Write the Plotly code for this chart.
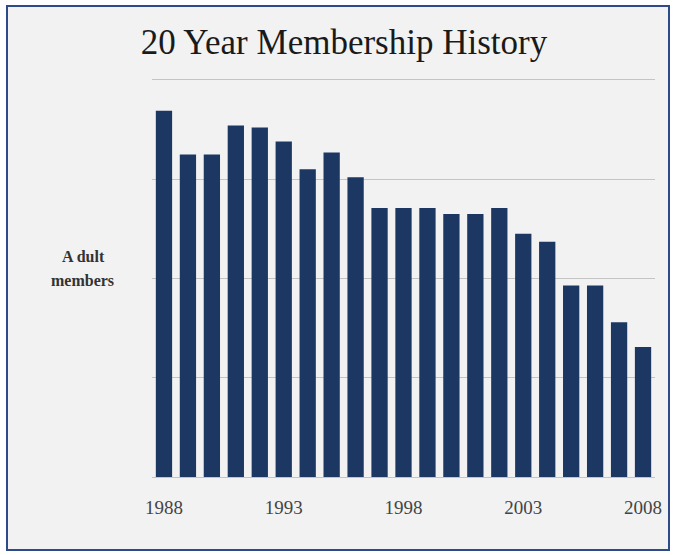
import plotly.graph_objects as go

years = [str(y) for y in range(1988, 2009)]
members = [369, 325, 325, 354, 352, 338, 310, 327, 302, 271, 271, 271, 265, 265, 271, 245, 237, 193, 193, 156, 131]
tick_years = ["1988", "1993", "1998", "2003", "2008"]
grid_vals = [0, 100, 200, 300, 400]

W, H = 675, 555
L, R, T, B = 152, 20, 70, 78
pw = W - L - R
ph = H - T - B

def px_x(x):
    return (x - L) / pw

def px_y(y):
    return (H - B - y) / ph

fig = go.Figure()
fig.add_trace(go.Bar(
    x=years, y=members,
    marker=dict(color="#1c3761", line=dict(width=0)),
    width=0.68,
    hoverinfo="x+y",
))

fig.add_shape(type="rect", xref="paper", yref="paper",
              x0=px_x(7), x1=px_x(669), y0=px_y(550), y1=px_y(6),
              fillcolor="#f2f2f2", line=dict(color="#2e4a8a", width=2),
              layer="below")

fig.add_annotation(text="<b>A dult</b>", xref="paper", yref="paper",
                   x=px_x(83), y=px_y(256), showarrow=False,
                   font=dict(family="Liberation Serif", size=16, color="#333333"),
                   xanchor="center", yanchor="middle")
fig.add_annotation(text="<b>members</b>", xref="paper", yref="paper",
                   x=px_x(82), y=px_y(280), showarrow=False,
                   font=dict(family="Liberation Serif", size=16, color="#333333"),
                   xanchor="center", yanchor="middle")

fig.update_layout(
    width=W, height=H,
    margin=dict(l=L, r=R, t=T, b=B, pad=0),
    paper_bgcolor="white",
    plot_bgcolor="rgba(0,0,0,0)",
    showlegend=False,
    bargap=0.32,
    title=dict(text="20 Year Membership History", x=344 / W, xanchor="center",
               y=1 - 42 / H, yanchor="middle",
               font=dict(family="Liberation Serif", size=35, color="#1a1a1a")),
    xaxis=dict(type="category", categoryorder="array", categoryarray=years,
               range=[-0.5, 20.5], tickvals=tick_years, ticktext=tick_years,
               ticks="outside", ticklen=13, tickcolor="rgba(0,0,0,0)",
               showgrid=False, showline=False, zeroline=False,
               tickfont=dict(family="Liberation Serif", size=19, color="#444444")),
    yaxis=dict(range=[0, 410], tickvals=grid_vals, showticklabels=False,
               showgrid=True, gridcolor="#c4c4c4", gridwidth=1,
               zeroline=True, zerolinecolor="#c4c4c4", zerolinewidth=1,
               showline=False, ticks=""),
)

fig.write_html("out.html", config={"displayModeBar": False},
               post_script="document.body.style.margin='0';document.body.style.overflow='hidden';")
